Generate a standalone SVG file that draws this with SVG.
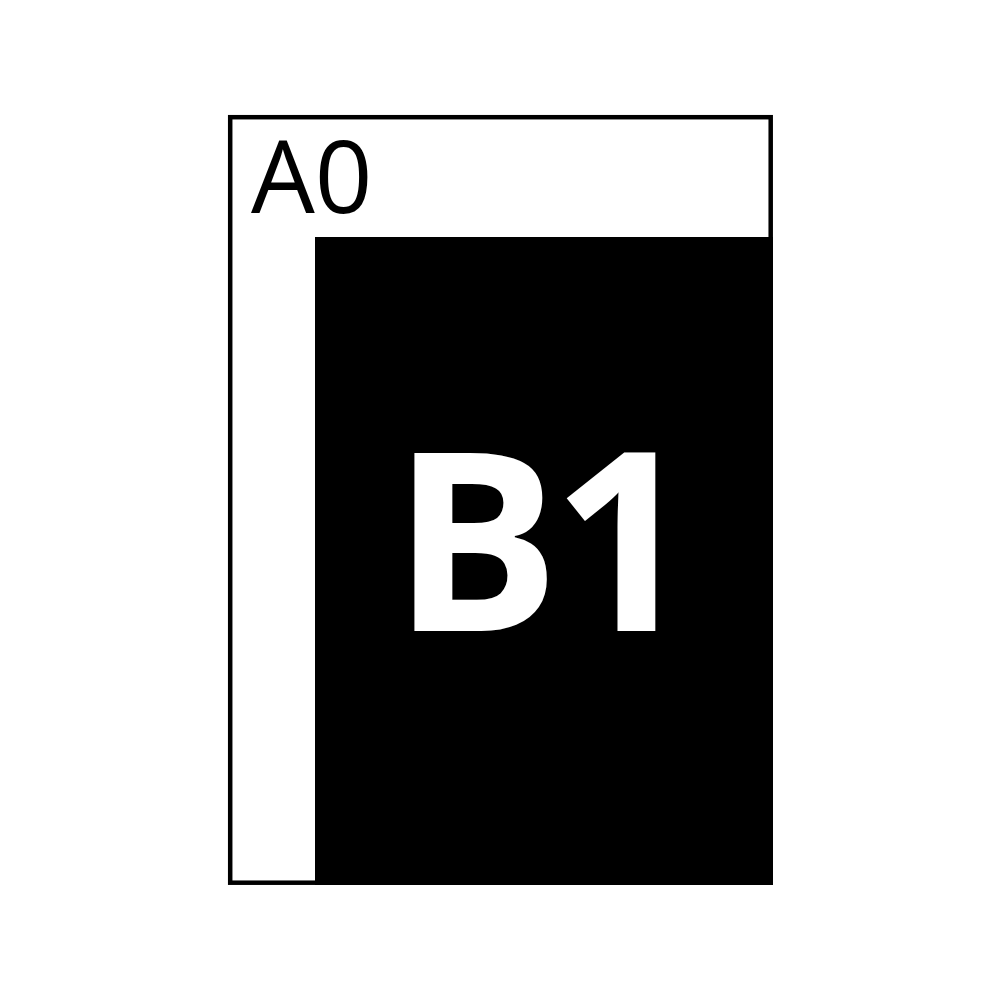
<svg xmlns="http://www.w3.org/2000/svg" width="1000" height="1000" viewBox="0 0 1000 1000">
<style>
.frame{fill:#fff;stroke:#000;stroke-width:4.5}
.lbl{font-family:"Open Sans","Liberation Sans",Arial,sans-serif}
</style>
<rect width="1000" height="1000" fill="#fff"/>
<g id="a0">
<rect class="frame" x="230.2" y="117.2" width="540.5" height="765.5"/>
<text class="lbl" x="251" y="213" font-size="101" font-weight="500" fill="#000">A0</text>
</g>
<g id="b1">
<rect x="315" y="237" width="458" height="648" fill="#000"/>
<text class="lbl" x="392" y="631" font-size="250" font-weight="bold" letter-spacing="-8" fill="#fff">B1</text>
</g>
</svg>
